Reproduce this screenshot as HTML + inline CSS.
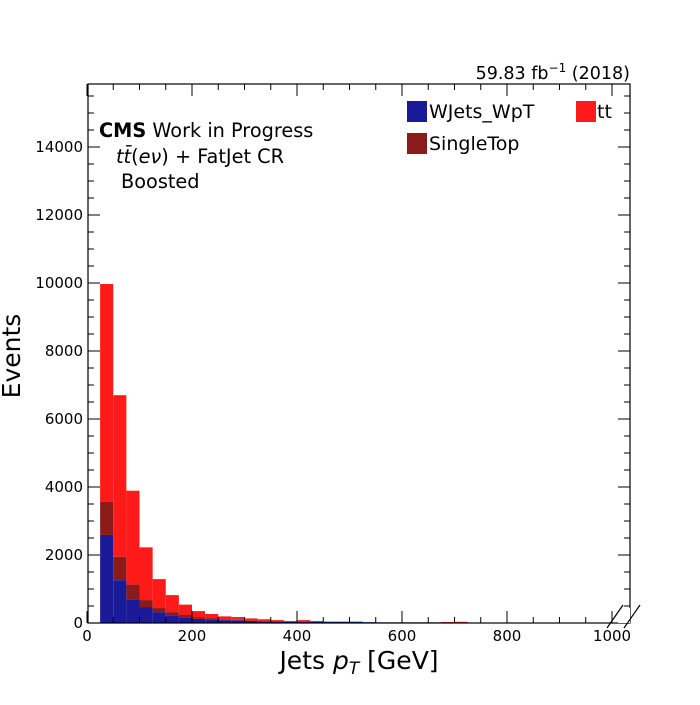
<!DOCTYPE html>
<html><head><meta charset="utf-8"><style>
html,body{margin:0;padding:0;background:#fff;}
svg text{font-family:"DejaVu Sans","Liberation Sans",sans-serif;fill:#000;}
</style></head><body>
<svg id="chart" width="700" height="700" viewBox="0 0 700 700" xmlns="http://www.w3.org/2000/svg">
<g id="bars"></g>
<g id="axes"></g>
<text x="630" y="79" font-size="17.5" text-anchor="end">59.83 fb<tspan font-size="12" dy="-7">−1</tspan><tspan dy="7"> (2018)</tspan></text>
<text x="99" y="137" font-size="19.3"><tspan font-weight="bold">CMS</tspan> Work in Progress</text>
<text x="116" y="163" font-size="19.3"><tspan font-style="italic">tt̄</tspan>(<tspan font-style="italic">eν</tspan>) + FatJet CR</text>
<text x="121" y="188" font-size="19.3">Boosted</text>
<g>
<rect x="407" y="101" width="20" height="21" fill="#1a1a99"/>
<text x="429" y="118" font-size="19">WJets_WpT</text>
<rect x="576" y="101" width="20" height="21" fill="#ff1a1a"/>
<text x="597" y="118" font-size="19">tt</text>
<rect x="407" y="133" width="20" height="21" fill="#8b1a1a"/>
<text x="429" y="150" font-size="19">SingleTop</text>
</g>
<text x="359" y="669" font-size="25" text-anchor="middle">Jets <tspan font-style="italic">p</tspan><tspan font-style="italic" font-size="17" dy="5">T</tspan><tspan dy="-5"> [GeV]</tspan></text>
<text x="20" y="356" font-size="25" text-anchor="middle" transform="rotate(-90 20 356)">Events</text>
</svg>
<script>
const binEdges = [25,50,75,100,125,150,175,200,225,250,275,300,325,350,375,400,425,450,475,500,525,550,575,600,625,650,675,700,725];
const wjets = [2590,1260,700,470,320,230,170,120,90,85,80,60,50,45,40,40,40,30,30,30,25,20,20,20,20,20,15,10];
const singletop = [980,690,430,205,120,90,65,55,55,15,15,10,10,5,5,5,5,5,5,5,0,0,0,0,0,0,0,5];
const ttbar = [6400,4750,2760,1550,850,500,305,175,120,95,80,65,50,35,15,40,15,10,10,10,0,0,0,0,0,0,15,20];
const xTicks = [0,200,400,600,800,1000];
const yTicks = [0,2000,4000,6000,8000,10000,12000,14000];

const L=88,R=630,T=84,B=623;
function xs(v){return 87+v*0.525;}
function ys(v){return 623-v*0.034;}
const NS="http://www.w3.org/2000/svg";
const bars=document.getElementById('bars');
const axes=document.getElementById('axes');
function mk(tag,attrs,parent){const e=document.createElementNS(NS,tag);for(const k in attrs)e.setAttribute(k,attrs[k]);parent.appendChild(e);return e;}
const series=[[wjets,'#1a1a99','wjets'],[singletop,'#8b1a1a','singletop'],[ttbar,'#ff1a1a','ttbar']];
for(let i=0;i<binEdges.length-1;i++){
  let base=0;
  for(const [arr,col,nm] of series){
    const v=arr[i]; if(!v){continue;}
    const x0=xs(binEdges[i]),x1=xs(binEdges[i+1]);
    const r=mk('rect',{x:x0,y:ys(base+v),width:x1-x0,height:ys(base)-ys(base+v),fill:col},bars);
    
    
    base+=v;
  }
}
const fr=mk('rect',{x:L,y:T,width:R-L,height:B-T,fill:'none',stroke:'#000','stroke-width':1.2},axes);


for(let v=0;v<=1000;v+=50){
  const x=xs(v),maj=v%200===0,len=maj?12:6;
  mk('line',{x1:x,x2:x,y1:B,y2:B-len,stroke:'#000','stroke-width':1},axes);
  mk('line',{x1:x,x2:x,y1:T,y2:T+len,stroke:'#000','stroke-width':1},axes);
}
xTicks.forEach(v=>{const t=mk('text',{x:xs(v),y:B+18,'font-size':15,'text-anchor':'middle'},axes);t.textContent=v;

});
for(let v=0;v<=15500;v+=500){
  const y=ys(v),maj=v%2000===0,len=maj?12:6;
  mk('line',{x1:L,x2:L+len,y1:y,y2:y,stroke:'#000','stroke-width':1},axes);
  mk('line',{x1:R,x2:R-len,y1:y,y2:y,stroke:'#000','stroke-width':1},axes);
}
yTicks.forEach(v=>{const t=mk('text',{x:L-5,y:ys(v)+5,'font-size':15,'text-anchor':'end'},axes);t.textContent=v;

});
mk('rect',{x:618,y:608,width:12,height:15,fill:'#fff'},axes);
mk('line',{x1:607,y1:628,x2:623,y2:605,stroke:'#000','stroke-width':1.2},axes);
mk('line',{x1:624,y1:628,x2:640,y2:605,stroke:'#000','stroke-width':1.2},axes);
</script>
</body></html>
